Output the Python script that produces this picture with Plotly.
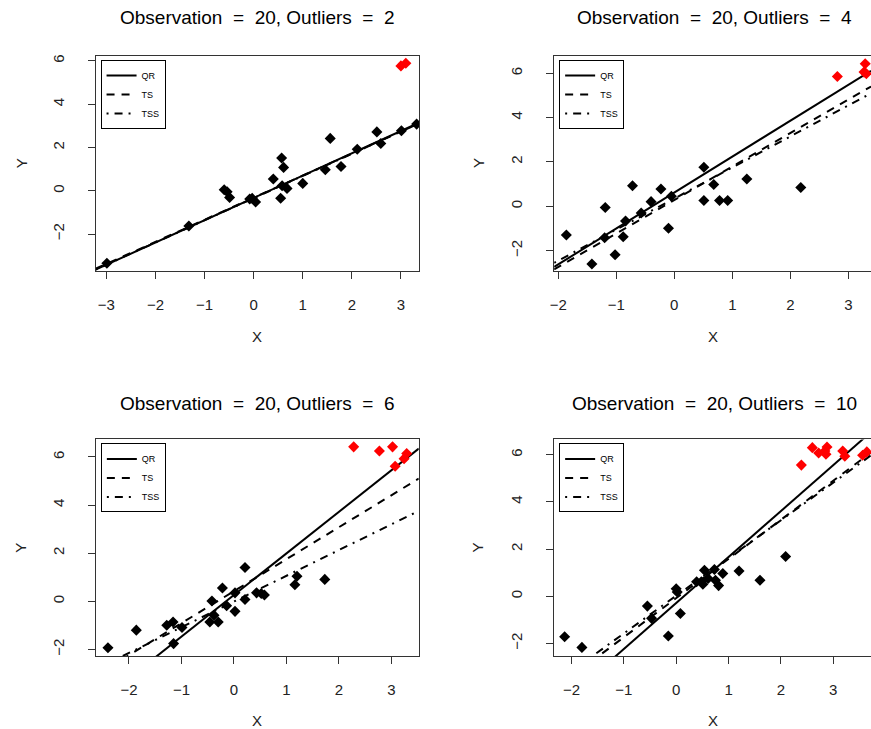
import plotly.graph_objects as go

W, H = 871, 729
FONT = "Liberation Sans, Arial, sans-serif"
SP = "\u00a0\u00a0"

# ---------------- data ----------------
outlier_counts = [2, 4, 6, 10]
titles = [f"Observation{SP}={SP}20, Outliers{SP}={SP}{c}" for c in outlier_counts]
methods = ["QR", "TS", "TSS"]

p1_x = [-2.99, -1.32, -0.60, -0.54, -0.49, -0.08, -0.03, 0.04, 0.40, 0.55, 0.57, 0.61,
        0.58, 0.68, 1.00, 1.46, 1.56, 1.78, 2.11, 2.51, 2.59, 3.01, 3.32]
p1_y = [-3.35, -1.63, 0.05, -0.05, -0.31, -0.38, -0.35, -0.52, 0.54, -0.35, 1.51, 1.08,
        0.23, 0.11, 0.34, 0.97, 2.42, 1.12, 1.92, 2.72, 2.18, 2.77, 3.08]
p1_ox = [3.00, 3.10]
p1_oy = [5.77, 5.89]

p2_x = [-1.86, -1.42, -1.19, -1.02, -1.20, -0.88, -0.84, -0.72, -0.57, -0.40, -0.23,
        -0.10, -0.05, 0.51, 0.51, 0.68, 0.78, 0.92, 1.25, 2.18]
p2_y = [-1.29, -2.60, -0.05, -2.18, -1.42, -1.37, -0.66, 0.93, -0.30, 0.21, 0.78,
        -0.99, 0.45, 1.76, 0.26, 0.98, 0.26, 0.26, 1.23, 0.85]
p2_ox = [2.81, 3.29, 3.27, 3.31]
p2_oy = [5.85, 6.43, 6.05, 5.98]

p3_x = [-2.40, -1.86, -1.28, -1.16, -0.99, -1.15, -0.46, -0.30, -0.42, -0.38, -0.22,
        -0.14, 0.02, 0.02, 0.21, 0.21, 0.43, 0.52, 0.58, 1.16, 1.20, 1.73]
p3_y = [-1.93, -1.20, -1.00, -0.86, -1.09, -1.76, -0.86, -0.86, 0.01, -0.58, 0.55,
        -0.19, -0.42, 0.35, 1.40, 0.07, 0.35, 0.32, 0.26, 0.69, 1.04, 0.91]
p3_ox = [2.28, 2.77, 3.02, 3.29, 3.24, 3.07]
p3_oy = [6.42, 6.25, 6.42, 6.14, 5.93, 5.61]

p4_x = [-2.13, -1.80, -0.55, -0.47, -0.15, 0.00, 0.02, 0.08, 0.39, 0.48, 0.51, 0.54,
        0.61, 0.73, 0.75, 0.81, 0.89, 1.20, 1.60, 2.09]
p4_y = [-1.72, -2.17, -0.42, -0.94, -1.69, 0.32, 0.18, -0.73, 0.61, 0.61, 0.51, 1.10,
        0.75, 1.13, 0.68, 0.45, 0.96, 1.07, 0.68, 1.68]
p4_ox = [2.39, 2.60, 2.72, 2.86, 2.88, 2.84, 3.18, 3.22, 3.56, 3.64]
p4_oy = [5.56, 6.30, 6.07, 6.02, 6.33, 6.16, 6.16, 5.94, 5.98, 6.12]

# fitted lines: (intercept, slope) for QR, TS, TSS
p1_coef = [(-0.33, 1.03), (-0.32, 1.02), (-0.34, 1.025)]
p2_coef = [(0.62, 1.62), (0.28, 1.51), (0.35, 1.40)]
p3_coef = [(0.26, 1.73), (0.42, 1.33), (-0.01, 1.07)]
p4_coef = [(-0.29, 1.95), (-0.08, 1.66), (0.02, 1.60)]

# ---------------- layout geometry ----------------
xranges = [[-3.22, 3.37], [-2.07, 3.39], [-2.63, 3.52], [-2.33, 3.72]]
yranges = [[-3.69, 6.23], [-2.90, 6.78], [-2.28, 6.73], [-2.54, 6.65]]
xtickv = [[-3, -2, -1, 0, 1, 2, 3], [-2, -1, 0, 1, 2, 3], [-2, -1, 0, 1, 2, 3], [-2, -1, 0, 1, 2, 3]]
ytickv = [-2, 0, 2, 4, 6]
boxes = [(92, 417, 55, 270), (552.7, 871, 55, 270), (92.3, 416.7, 439, 656), (552.7, 871, 439, 656)]

panels = [(p1_x, p1_y, p1_ox, p1_oy, p1_coef), (p2_x, p2_y, p2_ox, p2_oy, p2_coef),
          (p3_x, p3_y, p3_ox, p3_oy, p3_coef), (p4_x, p4_y, p4_ox, p4_oy, p4_coef)]

dashes = ["solid", "8px,7px", "2px,6px,8px,6px"]

fig = go.Figure()
layout = dict(width=W, height=H, margin=dict(l=0, r=0, t=0, b=0),
              paper_bgcolor="white", plot_bgcolor="white",
              font=dict(family=FONT, color="black"), showlegend=True)
annotations = []

for k, (px, py, ox, oy, coef) in enumerate(panels):
    n = k + 1
    xa = "x" if n == 1 else f"x{n}"
    ya = "y" if n == 1 else f"y{n}"
    lg = "legend" if n == 1 else f"legend{n}"
    x0, x1 = xranges[k]
    for m, (b0, b1) in enumerate(coef):
        fig.add_trace(go.Scatter(x=[x0, x1], y=[b0 + b1 * x0, b0 + b1 * x1], mode="lines",
                                 line=dict(color="black", width=2, dash=dashes[m]),
                                 name=methods[m], xaxis=xa, yaxis=ya, legend=lg))
    fig.add_trace(go.Scatter(x=px, y=py, mode="markers", showlegend=False,
                             marker=dict(symbol="diamond", size=8.5, color="black", line=dict(width=0)),
                             xaxis=xa, yaxis=ya))
    fig.add_trace(go.Scatter(x=ox, y=oy, mode="markers", showlegend=False,
                             marker=dict(symbol="diamond", size=8.5, color="#FF0000", line=dict(width=0)),
                             xaxis=xa, yaxis=ya))

    L, R, T, B = boxes[k]
    right_panel = n in (2, 4)
    xkey = "xaxis" if n == 1 else f"xaxis{n}"
    ykey = "yaxis" if n == 1 else f"yaxis{n}"
    layout[xkey] = dict(domain=[L / W, min(R / W, 1.0)], range=xranges[k], anchor=ya,
                        tickvals=xtickv[k], ticks="outside", ticklen=7, tickwidth=1,
                        tickcolor="#333", showline=True, linecolor="#333", linewidth=1,
                        mirror=True, showgrid=False, zeroline=False,
                        tickfont=dict(size=15, family=FONT, color="#222"), ticklabelstandoff=13)
    layout[ykey] = dict(domain=[1 - B / H, 1 - T / H], range=yranges[k], anchor=xa,
                        tickvals=ytickv, ticks="outside", ticklen=7, tickwidth=1,
                        tickcolor="#333", showline=True, linecolor="#333", linewidth=1,
                        mirror=(not right_panel), showgrid=False, zeroline=False,
                        tickangle=-90,
                        tickfont=dict(size=15, family=FONT, color="#222"), ticklabelstandoff=18)
    layout[lg] = dict(x=(L + 5) / W, y=1 - (T + 4) / H, xanchor="left", yanchor="top",
                      bgcolor="white", bordercolor="black", borderwidth=1,
                      font=dict(size=9, family=FONT, color="black"), itemwidth=30,
                      tracegroupgap=0)
    cx = 255 if not right_panel else 714
    annotations.append(dict(text=titles[k], x=cx / W, y=1 - (17 if n <= 2 else 403) / H,
                            xref="paper", yref="paper", showarrow=False,
                            font=dict(size=19, family=FONT, color="black"),
                            xanchor="center", yanchor="middle"))
    annotations.append(dict(text="X", x=(254 if not right_panel else 712) / W,
                            y=1 - (336 if n <= 2 else 720) / H, xref="paper", yref="paper",
                            showarrow=False, font=dict(size=15, family=FONT, color="#222"),
                            xanchor="center", yanchor="middle"))
    annotations.append(dict(text="Y", x=(17 if not right_panel else 476) / W,
                            y=1 - ((T + B) / 2) / H, xref="paper", yref="paper", textangle=-90,
                            showarrow=False, font=dict(size=15, family=FONT, color="#222"),
                            xanchor="center", yanchor="middle"))

layout["annotations"] = annotations
fig.update_layout(**layout)
fig.write_html("out.html", config={"displayModeBar": False},
               post_script="document.body.style.margin='0px';document.body.style.overflow='hidden';")
